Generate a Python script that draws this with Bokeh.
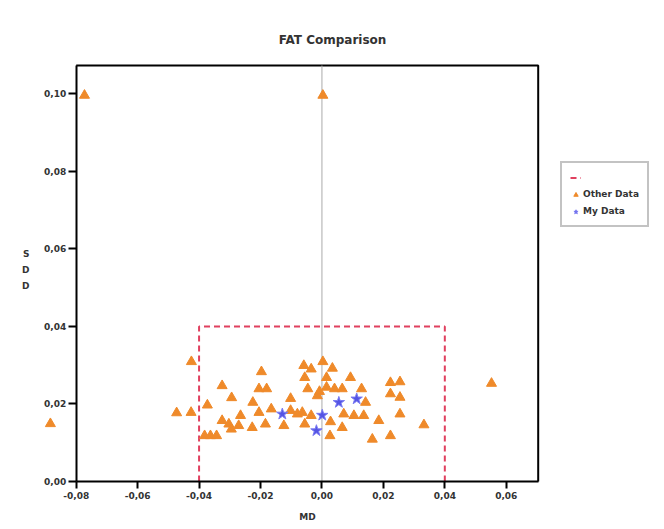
from bokeh.plotting import figure
from bokeh.models import Legend, LegendItem, Range1d, FixedTicker, LinearAxis
from bokeh.embed import file_html
from bokeh.resources import INLINE

# ---------------- data ----------------
title_text = "FAT Comparison"
x_label = "MD"
y_label = "S\nD\nD"

x_ticks = [-0.08, -0.06, -0.04, -0.02, 0.0, 0.02, 0.04, 0.06]
x_tick_labels = ["-0,08", "-0,06", "-0,04", "-0,02", "0,00", "0,02", "0,04", "0,06"]
y_ticks = [0.0, 0.02, 0.04, 0.06, 0.08, 0.10]
y_tick_labels = ["0,00", "0,02", "0,04", "0,06", "0,08", "0,10"]

other_x = [-0.0773, 0.0003, -0.0884, -0.0425, -0.0197, -0.0325, -0.0205, -0.0180,
           -0.0294, -0.0225, -0.0373, -0.0426, -0.0473, -0.0205, -0.0165, -0.0265,
           -0.0325, -0.0303, -0.0271, -0.0295, -0.0227, -0.0184, -0.0382, -0.0363,
           -0.0343, -0.0059, -0.0035, 0.0003, 0.0034, -0.0056, 0.0015, 0.0093,
           -0.0046, 0.0015, 0.0041, 0.0066, 0.0129, -0.0015, -0.0008, -0.0102,
           0.0142, -0.0102, -0.0080, -0.0064, -0.0035, -0.0124, -0.0056, 0.0028,
           0.0071, 0.0104, 0.0136, 0.0066, 0.0026, 0.0254, 0.0223, 0.0223,
           0.0254, 0.0185, 0.0254, 0.0332, 0.0164, 0.0223, 0.0552]
other_y = [0.0996, 0.0996, 0.0149, 0.0309, 0.0283, 0.0247, 0.0239, 0.0239,
           0.0216, 0.0204, 0.0197, 0.0178, 0.0177, 0.0178, 0.0187, 0.0170,
           0.0157, 0.0148, 0.0144, 0.0135, 0.0139, 0.0148, 0.0118, 0.0118,
           0.0118, 0.0299, 0.0290, 0.0309, 0.0292, 0.0268, 0.0268, 0.0268,
           0.0239, 0.0243, 0.0239, 0.0239, 0.0239, 0.0221, 0.0232, 0.0214,
           0.0204, 0.0183, 0.0174, 0.0178, 0.0170, 0.0144, 0.0148, 0.0154,
           0.0174, 0.0170, 0.0170, 0.0139, 0.0118, 0.0257, 0.0255, 0.0226,
           0.0217, 0.0157, 0.0174, 0.0146, 0.0109, 0.0118, 0.0253]

my_x = [-0.0129, 0.0001, -0.0018, 0.0055, 0.0113]
my_y = [0.0174, 0.0171, 0.0131, 0.0204, 0.0213]

limit_x = [-0.04, 0.04]
limit_y = [0.0, 0.04]
ref_x = 0.0

# axis box of the chart (data units)
x_left, x_right = -0.08, 0.0704
y_bottom, y_top = 0.0, 0.1073

# ---------------- layout (pixels) ----------------
W, H = 664, 529
AX_LEFT_PX, AX_RIGHT_PX = 75.7, 537.7     # where x_left / x_right sit
FRAME_TOP_PX, AX_TOP_PX, AX_BOTTOM_PX = 58, 65, 481
YLABEL_CENTER_PX = 265

px_x = (AX_RIGHT_PX - AX_LEFT_PX) / (x_right - x_left)
px_y = (AX_BOTTOM_PX - AX_TOP_PX) / (y_top - y_bottom)
fx0 = x_left - AX_LEFT_PX / px_x
fx1 = x_right + (W - AX_RIGHT_PX) / px_x
fy0 = y_bottom - (H - AX_BOTTOM_PX) / px_y
fy1 = y_top + (AX_TOP_PX - FRAME_TOP_PX) / px_y
ylab_mid = (AX_BOTTOM_PX - YLABEL_CENTER_PX) / px_y

ORANGE = "#EF8A2A"
BLUE = "#5454E4"
RED = "#E0405F"
FONT = "DejaVu Sans"
TXT = "#333333"

p = figure(width=W, height=H,
           x_range=Range1d(fx0, fx1), y_range=Range1d(fy0, fy1),
           output_backend="svg", toolbar_location=None,
           min_border_left=0, min_border_right=0,
           min_border_top=FRAME_TOP_PX, min_border_bottom=0)

p.background_fill_color = "white"
p.border_fill_color = "white"
p.outline_line_color = None
p.xgrid.visible = False
p.ygrid.visible = False

p.title.text = title_text
p.title.align = "center"
p.title.offset = 6
p.title.text_font = FONT
p.title.text_font_size = "12px"
p.title.text_font_style = "bold"
p.title.text_color = TXT
p.title.standoff = 23

for ax, ticks, labels in ((p.xaxis[0], x_ticks, x_tick_labels),
                          (p.yaxis[0], y_ticks, y_tick_labels)):
    ax.ticker = FixedTicker(ticks=ticks)
    ax.major_label_overrides = {t: l for t, l in zip(ticks, labels)}
    ax.minor_tick_line_color = None
    ax.major_tick_in = 0
    ax.major_tick_out = 8
    ax.major_tick_line_color = "black"
    ax.major_tick_line_width = 2
    ax.axis_line_color = "black"
    ax.axis_line_width = 2
    ax.major_label_text_font = FONT
    ax.major_label_text_font_size = "9px"
    ax.major_label_text_font_style = "bold"
    ax.major_label_text_color = TXT

p.xaxis.fixed_location = y_bottom
p.xaxis.bounds = (x_left, x_right)
p.xaxis.axis_label = x_label
p.xaxis.axis_label_text_font = FONT
p.xaxis.axis_label_text_font_size = "9px"
p.xaxis.axis_label_text_font_style = "bold"
p.xaxis.axis_label_text_color = TXT
p.xaxis.major_tick_out = 7
p.xaxis.major_label_standoff = 3
p.xaxis.axis_label_standoff = 10

p.yaxis.fixed_location = x_left
p.yaxis.bounds = (y_bottom, y_top)
p.yaxis.major_label_standoff = 2

# y-axis title carried by a bare axis so that it can sit where the original has it
ylab_axis = LinearAxis(fixed_location=x_left, bounds=(y_bottom, 2 * ylab_mid),
                       ticker=FixedTicker(ticks=[]), axis_line_color=None,
                       major_tick_line_color=None, minor_tick_line_color=None,
                       axis_label=y_label, axis_label_orientation="horizontal",
                       axis_label_standoff=47, axis_label_text_font=FONT,
                       axis_label_text_font_size="9px", axis_label_text_font_style="bold",
                       axis_label_text_color=TXT, axis_label_text_line_height=1.6)
p.add_layout(ylab_axis, "left")

# plot box: top and right edges
p.line([x_left, x_right, x_right], [y_top, y_top, y_bottom], line_color="black", line_width=2)

# reference line at MD = 0
p.segment(x0=[ref_x], y0=[y_bottom], x1=[ref_x], y1=[y_top], line_color="#AAAAAA", line_width=1)

box_xs = [limit_x[0], limit_x[0], limit_x[1], limit_x[1]]
box_ys = [limit_y[0], limit_y[1], limit_y[1], limit_y[0]]
r_box = p.line(box_xs, box_ys, line_color=RED, line_width=2, line_dash="6 4")

r_other = p.scatter(other_x, other_y, marker="triangle", size=10,
                    fill_color=ORANGE, line_color=ORANGE)
r_my = p.scatter(my_x, my_y, marker="star", size=12, fill_color=BLUE, line_color="#7C7CF2")

legend = Legend(items=[LegendItem(label=" ", renderers=[r_box]),
                       LegendItem(label="Other Data", renderers=[r_other]),
                       LegendItem(label="My Data", renderers=[r_my])],
                location=(560, H - 227), glyph_width=11, glyph_height=11,
                label_standoff=2, label_height=12, padding=8, spacing=5, margin=0,
                border_line_color="#888888", border_line_width=2,
                label_text_font=FONT, label_text_font_size="9px",
                label_text_font_style="bold", label_text_color=TXT)
p.add_layout(legend, "center")

open("out.html", "w").write(file_html(p, INLINE))
